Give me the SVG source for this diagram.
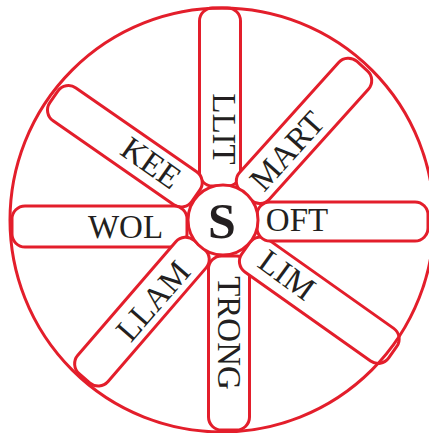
<svg xmlns="http://www.w3.org/2000/svg" width="429" height="433" viewBox="0 0 429 433">
<style>
.sp{fill:#fff;stroke:#e31e2b;stroke-width:3}
.ring{fill:none;stroke:#e31e2b;stroke-width:3}
.hub{fill:#fff;stroke:#e31e2b;stroke-width:3}
.t{font-family:"Liberation Serif","Times New Roman",serif;font-size:33px;fill:#231f20;text-anchor:middle}
.s{font-family:"Liberation Serif","Times New Roman",serif;font-size:50px;font-weight:bold;fill:#231f20;text-anchor:middle}
</style>
<rect width="429" height="433" fill="#fff"/>
<g id="spoke-llit"><rect class="sp" transform="translate(220,220) rotate(-90)" x="34" y="-20.5" width="178" height="41" rx="13"/></g>
<g id="spoke-kee"><rect class="sp" transform="translate(223,214.5) rotate(214.8)" x="33" y="-20" width="173" height="40" rx="13"/></g>
<g id="spoke-wol"><rect class="sp" transform="translate(223,226.5) rotate(180)" x="36" y="-20.5" width="175" height="41" rx="13"/></g>
<g id="spoke-llam"><rect class="sp" transform="translate(221,220) rotate(130.8)" x="33" y="-20" width="176" height="40" rx="13"/></g>
<g id="spoke-trong"><rect class="sp" transform="translate(229,220) rotate(90)" x="36" y="-20.5" width="174" height="41" rx="13"/></g>
<g id="spoke-lim"><rect class="sp" transform="translate(223,232) rotate(35.3)" x="28" y="-20" width="180" height="40" rx="13"/></g>
<g id="spoke-oft"><rect class="sp" transform="translate(223,221.5)" x="34" y="-19.5" width="171" height="39" rx="13"/></g>
<g id="spoke-mart"><rect class="sp" transform="translate(223.7,220) rotate(-48)" x="33" y="-20" width="174" height="40" rx="13"/></g>
<g id="connectors"><circle class="ring" cx="222" cy="220" r="212"/></g>
<g id="hub"><circle class="hub" cx="223" cy="220" r="35"/><text class="s" x="222" y="238">S</text></g>
<g id="labels">
<text class="t" transform="translate(224,129) rotate(90)" x="0" y="11">LLIT</text>
<text class="t" transform="translate(229,333) rotate(90)" x="0" y="11">TRONG</text>
<text class="t" transform="translate(297,220)" x="0" y="11">OFT</text>
<text class="t" transform="translate(125.5,227)" x="0" y="11">WOL</text>
<text class="t" transform="translate(151,163) rotate(35)" x="0" y="11">KEE</text>
<text class="t" transform="translate(287,151) rotate(-48)" x="0" y="11">MART</text>
<text class="t" transform="translate(287,275) rotate(36)" x="0" y="11">LIM</text>
<text class="t" transform="translate(153,301) rotate(-49)" x="0" y="11">LLAM</text>
</g>
</svg>
